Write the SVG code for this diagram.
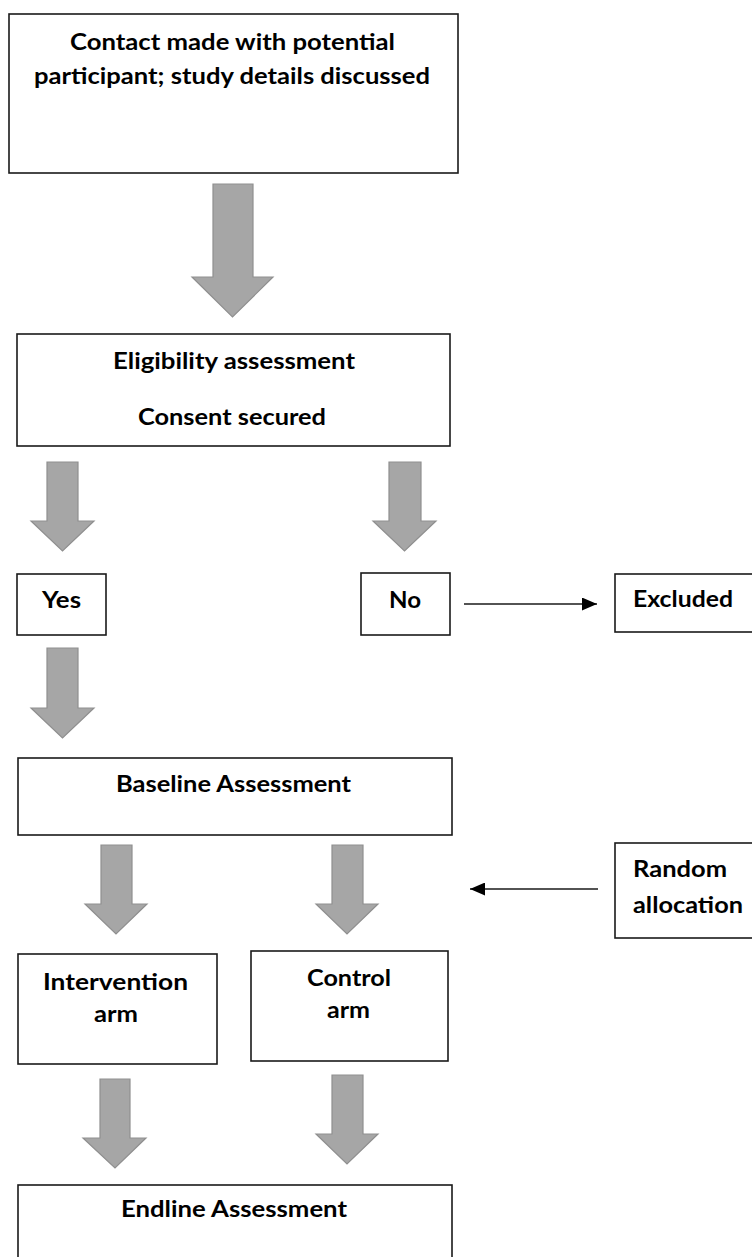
<svg xmlns="http://www.w3.org/2000/svg" width="752" height="1257" viewBox="0 0 752 1257">
<defs>
<style>
.box{fill:#fff;stroke:#1a1a1a;stroke-width:1.6}
.t{font-family:Lato,"Open Sans","Liberation Sans",sans-serif;font-weight:bold;font-size:23.5px;fill:#000}
.blk{fill:#a6a6a6;stroke:#8f8f8f;stroke-width:1.2}
.thin{stroke:#1a1a1a;stroke-width:1.5;fill:none}
</style>
<marker id="ah" viewBox="0 0 15 13" refX="15" refY="6.5" markerWidth="15" markerHeight="13" markerUnits="userSpaceOnUse" orient="auto">
<path d="M0,0 L15,6.5 L0,13 z" fill="#000"/>
</marker>
</defs>
<rect width="752" height="1257" fill="#fff"/>

<g id="connectors">
<polygon class="blk" points="213,184 253,184 253,277 273,277 232.5,317 192,277 213,277"/>
<polygon class="blk" points="47,462 78,462 78,521 94,521 62.5,551 31,521 47,521"/>
<polygon class="blk" points="389,462 421,462 421,521 436,521 404.5,551 373,521 389,521"/>
<polygon class="blk" points="47,648 78,648 78,708 94,708 62.5,738 31,708 47,708"/>
<polygon class="blk" points="101,845 132,845 132,904 147,904 116,934 85,904 101,904"/>
<polygon class="blk" points="332,845 363,845 363,904 378,904 347,934 316,904 332,904"/>
<polygon class="blk" points="100,1079 130,1079 130,1138 146,1138 115,1168 83,1138 100,1138"/>
<polygon class="blk" points="332,1075 363,1075 363,1134 378,1134 347,1164 316,1134 332,1134"/>
<line class="thin" x1="464" y1="604" x2="597" y2="604" marker-end="url(#ah)"/>
<line class="thin" x1="598" y1="889" x2="470" y2="889" marker-end="url(#ah)"/>
</g>

<g id="contact">
<rect class="box" x="9" y="14" width="449" height="159"/>
<text class="t" x="70" y="50" textLength="325" lengthAdjust="spacingAndGlyphs">Contact made with potential</text>
<text class="t" x="34" y="84" textLength="396" lengthAdjust="spacingAndGlyphs">participant; study details discussed</text>
</g>

<g id="eligibility">
<rect class="box" x="17" y="334" width="433" height="112"/>
<text class="t" x="113" y="369" textLength="242" lengthAdjust="spacingAndGlyphs">Eligibility assessment</text>
<text class="t" x="138" y="425" textLength="188" lengthAdjust="spacingAndGlyphs">Consent secured</text>
</g>

<g id="yes">
<rect class="box" x="17" y="574" width="89" height="61"/>
<text class="t" x="42" y="608" textLength="39" lengthAdjust="spacingAndGlyphs">Yes</text>
</g>

<g id="no">
<rect class="box" x="361" y="573" width="89" height="62"/>
<text class="t" x="389" y="608" textLength="32" lengthAdjust="spacingAndGlyphs">No</text>
</g>

<g id="excluded">
<rect class="box" x="615" y="574" width="150" height="58"/>
<text class="t" x="633" y="607" textLength="100" lengthAdjust="spacingAndGlyphs">Excluded</text>
</g>

<g id="baseline">
<rect class="box" x="18" y="758" width="434" height="77"/>
<text class="t" x="116" y="792" textLength="235" lengthAdjust="spacingAndGlyphs">Baseline Assessment</text>
</g>

<g id="random">
<rect class="box" x="615" y="843" width="150" height="95"/>
<text class="t" x="633" y="877" textLength="94" lengthAdjust="spacingAndGlyphs">Random</text>
<text class="t" x="633" y="913" textLength="110" lengthAdjust="spacingAndGlyphs">allocation</text>
</g>

<g id="intervention">
<rect class="box" x="18" y="954" width="199" height="110"/>
<text class="t" x="43" y="990" textLength="145" lengthAdjust="spacingAndGlyphs">Intervention</text>
<text class="t" x="94" y="1022" textLength="44" lengthAdjust="spacingAndGlyphs">arm</text>
</g>

<g id="control">
<rect class="box" x="251" y="951" width="197" height="110"/>
<text class="t" x="307" y="986" textLength="84" lengthAdjust="spacingAndGlyphs">Control</text>
<text class="t" x="327" y="1018" textLength="43" lengthAdjust="spacingAndGlyphs">arm</text>
</g>

<g id="endline">
<rect class="box" x="18" y="1185" width="434" height="90"/>
<text class="t" x="121" y="1217" textLength="226" lengthAdjust="spacingAndGlyphs">Endline Assessment</text>
</g>
</svg>
